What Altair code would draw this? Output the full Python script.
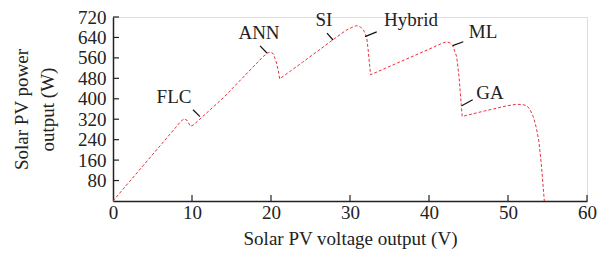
import altair as alt
import pandas as pd

# Curve (voltage V, power W)
volt = [0.0, 4.0, 8.0, 8.6, 9.0, 9.4, 9.8, 10.2, 14.0, 19.0, 19.5, 19.9, 20.3, 20.7, 20.95, 21.1,
        24.0, 27.8, 29.5, 30.3, 30.8, 31.3, 31.7, 32.1, 32.3, 32.5, 32.6,
        36.0, 40.0, 41.5, 42.2, 42.7, 43.0, 43.5, 43.8, 44.0, 44.2,
        47.0, 49.8, 51.0, 51.8, 52.4, 52.8, 53.2, 53.6, 53.9, 54.2, 54.4, 54.6]
power = [0, 145, 290, 312, 322, 315, 292, 298, 405, 565, 578, 583, 576, 540, 505, 478,
         543, 630, 668, 680, 686, 682, 669, 643, 591, 526, 494,
         540, 594, 615, 623, 618, 608, 565, 487, 409, 331,
         352, 372, 378, 378, 372, 357, 330, 285, 235, 150, 75, 0]

# Annotations: label, text position, leader line ends (data units)
ann_label = ["FLC", "ANN", "SI", "Hybrid", "ML", "GA"]
ann_tx = [7.72, 18.48, 26.71, 37.72, 46.84, 47.72]
ann_ty = [408, 657, 708, 708, 661, 423]
lead_x1 = [10.13, 18.61, 27.09, 33.38, 44.34, 45.53]
lead_y1 = [357, 607, 657, 662, 623, 396]
lead_x2 = [11.01, 19.49, 27.85, 31.9, 43.0, 44.14]
lead_y2 = [330, 579, 630, 643, 608, 373]

x_ticks = [0, 10, 20, 30, 40, 50, 60]
y_ticks = [80, 160, 240, 320, 400, 480, 560, 640, 720]

FONT = "Liberation Serif"
W, H = 474, 184

curve = pd.DataFrame({"v": volt, "p": power, "i": range(len(volt))})
ann = pd.DataFrame({"label": ann_label, "tx": ann_tx, "ty": ann_ty,
                    "x1": lead_x1, "y1": lead_y1, "x2": lead_x2, "y2": lead_y2})
xt = pd.DataFrame({"t": x_ticks[1:]})
yt = pd.DataFrame({"t": y_ticks})

xs = alt.Scale(domain=[0, 60], nice=False)
ys = alt.Scale(domain=[0, 720], nice=False)

xaxis = alt.Axis(values=x_ticks, format="d", ticks=False, grid=False,
                 domainColor="#222", domainWidth=1.5, labelFont=FONT, labelFontSize=19,
                 labelColor="#222", labelPadding=2, title="Solar PV voltage output (V)",
                 titleFont=FONT, titleFontSize=19, titleFontWeight="normal", titleColor="#222",
                 titlePadding=7, labelFlush=False, labelOverlap=False)
yaxis = alt.Axis(values=y_ticks, format="d", ticks=False, grid=False,
                 domainColor="#222", domainWidth=1.5, labelFont=FONT, labelFontSize=19,
                 labelColor="#222", labelPadding=7, title=["Solar PV power", "output (W)"],
                 titleFont=FONT, titleFontSize=19, titleFontWeight="normal", titleColor="#222",
                 titlePadding=20, titleLineHeight=26, labelFlush=False, labelOverlap=False)

line = alt.Chart(curve).mark_line(color="#e8323c", strokeWidth=1, strokeDash=[3, 2]).encode(
    x=alt.X("v:Q", scale=xs, axis=xaxis),
    y=alt.Y("p:Q", scale=ys, axis=yaxis),
    order="i:Q",
)

leaders = alt.Chart(ann).mark_rule(color="#111", strokeWidth=1.2).encode(
    x=alt.X("x1:Q", scale=xs, axis=xaxis), y=alt.Y("y1:Q", scale=ys, axis=yaxis),
    x2="x2:Q", y2="y2:Q")

labels = alt.Chart(ann).mark_text(font=FONT, fontSize=19, color="#222",
                                  align="center", baseline="middle").encode(
    x=alt.X("tx:Q", scale=xs, axis=xaxis), y=alt.Y("ty:Q", scale=ys, axis=yaxis),
    text="label:N")

xtick = alt.Chart(xt).mark_rule(color="#222", strokeWidth=1.2).encode(
    x=alt.X("t:Q", scale=xs, axis=xaxis), y=alt.value(H), y2=alt.value(H - 6))
ytick = alt.Chart(yt).mark_rule(color="#222", strokeWidth=1.2).encode(
    y=alt.Y("t:Q", scale=ys, axis=yaxis), x=alt.value(0), x2=alt.value(6))

chart = alt.layer(line, leaders, labels, xtick, ytick).properties(
    width=W, height=H,
    autosize=alt.AutoSizeParams(type="none"),
    padding={"left": 105, "top": 9, "right": 10, "bottom": 50},
).configure_view(stroke=None).configure(background="white")

chart.save("out.html", embed_options={"renderer": "svg", "actions": False})
